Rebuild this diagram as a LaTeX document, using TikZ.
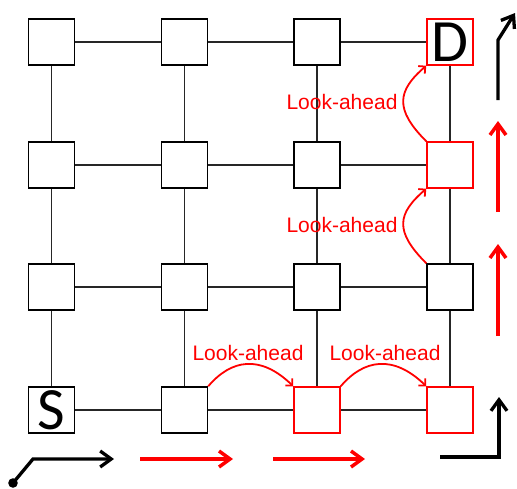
\documentclass[tikz,border=0pt]{standalone}
\usepackage{fontspec}
\setmainfont{Liberation Sans}
\newfontfamily\boxfont{Carlito}
\usetikzlibrary{arrows.meta}
\begin{document}
\begin{tikzpicture}[x=1pt,y=-1pt,
  cell/.style={draw=black,line width=1.5pt,fill=white,minimum size=46pt,inner sep=0pt,font=\boxfont\fontsize{60}{60}\selectfont},
  redcell/.style={cell,draw=red},
  edge/.style={draw=black!85,line width=1.1pt},
  look/.style={draw=red,line width=1.8pt,-{Straight Barb[length=5pt,width=10pt]}},
  looklabel/.style={text=red,font=\fontsize{21}{21}\selectfont,inner sep=0pt},
  blkarrow/.style={draw=black,line width=3.3pt,-{Straight Barb[length=11pt,width=16pt]}},
  redarrow/.style={draw=red,line width=3.5pt,-{Straight Barb[length=11pt,width=16pt]}}]
\useasboundingbox (0,0) rectangle (517,488);
% grid nodes: n<col><row>, row 1 at top
\node[cell] (n11) at (51.5,42) {};
\node[cell] (n21) at (184.5,42) {};
\node[cell] (n31) at (317,42) {};
\node[redcell] (n41) at (450,42) {D};
\node[cell] (n12) at (51.5,165) {};
\node[cell] (n22) at (184.5,165) {};
\node[cell] (n32) at (317,165) {};
\node[redcell] (n42) at (450,165) {};
\node[cell] (n13) at (51.5,287) {};
\node[cell] (n23) at (184.5,287) {};
\node[cell] (n33) at (317,287) {};
\node[cell] (n43) at (450,287) {};
\node[cell] (n14) at (51.5,410) {S};
\node[cell] (n24) at (184.5,410) {};
\node[redcell] (n34) at (317,410) {};
\node[redcell] (n44) at (450,410) {};
% grid edges
\foreach \r in {1,2,3,4}{
  \draw[edge] (n1\r) -- (n2\r);
  \draw[edge] (n2\r) -- (n3\r);
  \draw[edge] (n3\r) -- (n4\r);
}
\foreach \c in {1,2,3,4}{
  \draw[edge] (n\c1) -- (n\c2);
  \draw[edge] (n\c2) -- (n\c3);
  \draw[edge] (n\c3) -- (n\c4);
}
% look-ahead arcs
\draw[look] (n24.north east) .. controls +(23,-27) and +(-33,-32) .. (n34.north west);
\draw[look] (n34.north east) .. controls +(23,-27) and +(-33,-32) .. (n44.north west);
\draw[look] (n43.north west) .. controls +(-32,-32) and +(-29,25) .. (n42.south west);
\draw[look] (n42.north west) .. controls +(-32,-32) and +(-29,25) .. (n41.south west);
\node[looklabel] (la1) at (342,102) {Look-ahead};
\node[looklabel] (la2) at (342,225) {Look-ahead};
\node[looklabel] (la3) at (248,353) {Look-ahead};
\node[looklabel] (la4) at (385,353) {Look-ahead};
% direction arrows
\coordinate (s0) at (13,483);
\coordinate (s1) at (33,459);
\coordinate (s2) at (114,459);
\fill (s0) circle (4.8pt);
\draw[blkarrow] (s0) -- (s1) -- (s2);
\coordinate (h1a) at (140,459); \coordinate (h1b) at (233,459);
\coordinate (h2a) at (273,459); \coordinate (h2b) at (365,459);
\draw[redarrow] (h1a) -- (h1b);
\draw[redarrow] (h2a) -- (h2b);
\coordinate (c0) at (440,457);
\coordinate (c1) at (499,457);
\coordinate (c2) at (499,397);
\draw[blkarrow] (c0) -- (c1) -- (c2);
\coordinate (v1a) at (498,336); \coordinate (v1b) at (498,244);
\coordinate (v2a) at (498,212); \coordinate (v2b) at (498,121);
\draw[redarrow] (v1a) -- (v1b);
\draw[redarrow] (v2a) -- (v2b);
\coordinate (t0) at (498,100);
\coordinate (t1) at (498,40);
\coordinate (t2) at (515,13);
\draw[blkarrow] (t0) -- (t1) -- (t2);
\end{tikzpicture}
\end{document}
